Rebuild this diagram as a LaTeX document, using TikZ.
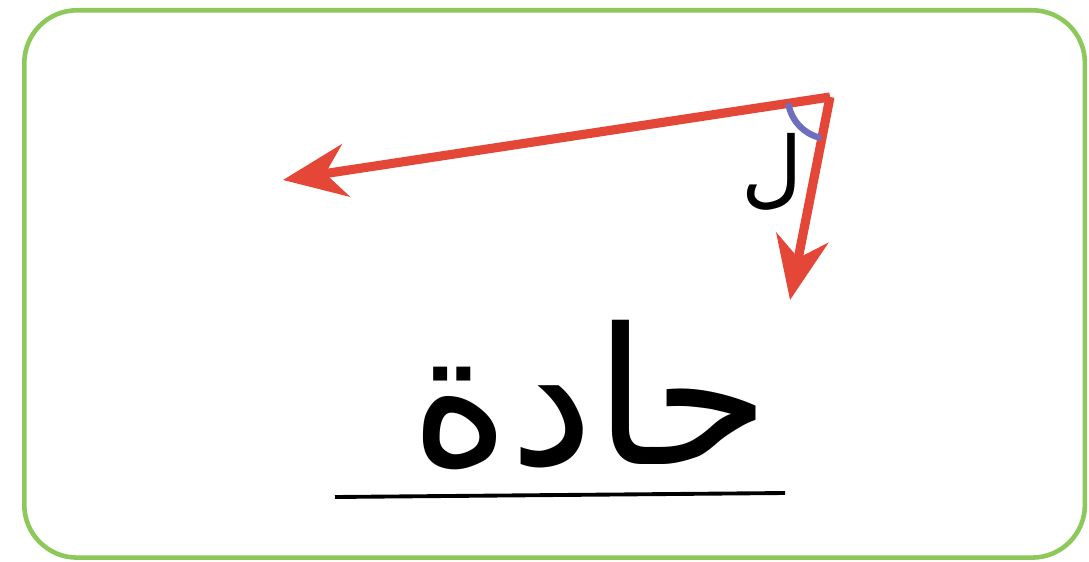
\documentclass[tikz,border=0pt]{standalone}
\usepackage{fontspec}
\usetikzlibrary{arrows.meta,calc}
\TeXXeTstate=1
\newfontfamily\arabicfont[Script=Arabic]{DejaVu Sans}
\definecolor{framegreen}{RGB}{140,200,90}
\definecolor{arrowred}{RGB}{228,70,55}
\definecolor{markblue}{RGB}{110,110,190}
\tikzset{
  ray/.style={draw=arrowred, line width=2.6pt, -{Stealth[length=18pt,width=15pt]}},
  frame/.style={draw=framegreen, line width=1.3pt, rounded corners=15pt},
  arlabel/.style={font=\arabicfont, text=black}
}
\begin{document}
\begin{tikzpicture}[x=0.01cm,y=-0.01cm]
\useasboundingbox (0,0) rectangle (1089,561);
\fill[white] (0,0) rectangle (1089,561);
\node[frame, minimum width=10.6cm, minimum height=5.47cm, anchor=north west] (box) at (22,8) {};
\coordinate (V) at (830,97);
\coordinate (A) at (283,180);
\coordinate (B) at (790,300);
\draw[ray] (V) -- (A);
\draw[ray] (V) -- (B);
\draw[markblue, line width=1.8pt] ($(V)!12pt!(A)$) arc[start angle=189, end angle=258, radius=12pt];
\node[arlabel, font=\arabicfont\fontsize{24}{28}\selectfont] (lam) at (772,172) {\beginR ل\endR};
\node[arlabel, font=\arabicfont\fontsize{54}{62}\selectfont] (word) at (590,395) {\beginR حادة\endR};
\coordinate (u1) at (335,497);
\coordinate (u2) at (785,493);
\draw[black, line width=1.1pt] (u1) -- (u2);
\end{tikzpicture}
\end{document}
